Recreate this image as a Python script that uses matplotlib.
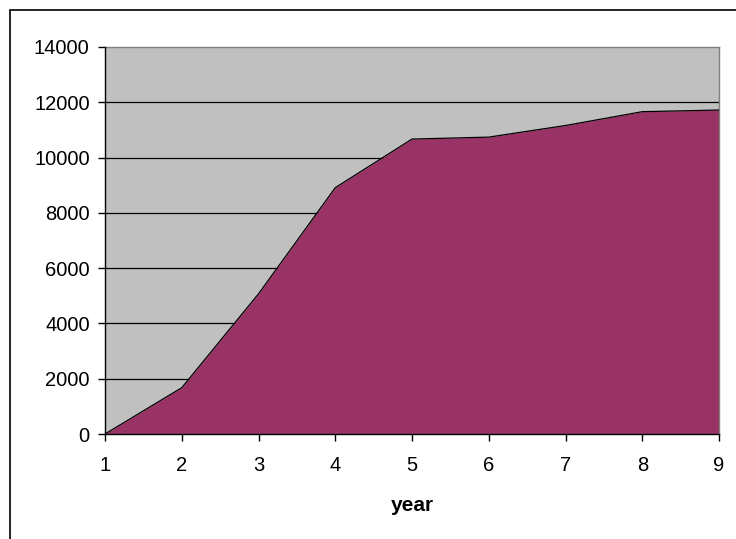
import matplotlib

matplotlib.use("Agg")
import matplotlib.pyplot as plt
from matplotlib.patches import Rectangle

years = [1, 2, 3, 4, 5, 6, 7, 8, 9]
totals = [0, 1675, 5070, 8910, 10670, 10740, 11160, 11660, 11720]
y_ticks = [0, 2000, 4000, 6000, 8000, 10000, 12000, 14000]

plt.rcParams["font.family"] = ["Liberation Sans", "DejaVu Sans"]

fig = plt.figure(figsize=(7.36, 5.39), dpi=100)
ax = fig.add_axes([105 / 736, 1 - 434 / 539, 614 / 736, 387 / 539])

ax.set_facecolor("#C0C0C0")
ax.fill_between(years, totals, 0, color="#993366", linewidth=0, zorder=2)
ax.plot(years, totals, color="black", linewidth=0.9, zorder=3)

ax.set_xlim(1, 9)
ax.set_ylim(0, 14000)
ax.set_xticks(years)
ax.set_yticks(y_ticks)
for y in y_ticks[1:-1]:
    ax.axhline(y, color="black", linewidth=0.9, zorder=1)

ax.tick_params(axis="both", direction="out", length=5, width=1, labelsize=14.5, colors="black")
ax.tick_params(axis="x", pad=11)
ax.tick_params(axis="y", pad=6)
for side in ("left", "bottom"):
    ax.spines[side].set_color("black")
    ax.spines[side].set_linewidth(1)
    ax.spines[side].set_zorder(4)
for side in ("top", "right"):
    ax.spines[side].set_color("#808080")
    ax.spines[side].set_linewidth(1)

ax.set_xlabel("year", fontsize=15, fontweight="bold", labelpad=15)

# chart frame, running off the right and bottom edges
fig.patches.append(Rectangle((10 / 736, -0.01), 1.0, 1 - 10 / 539 + 0.01,
                             transform=fig.transFigure, fill=False,
                             edgecolor="black", linewidth=1.2))

fig.savefig("out.png", dpi=100)
